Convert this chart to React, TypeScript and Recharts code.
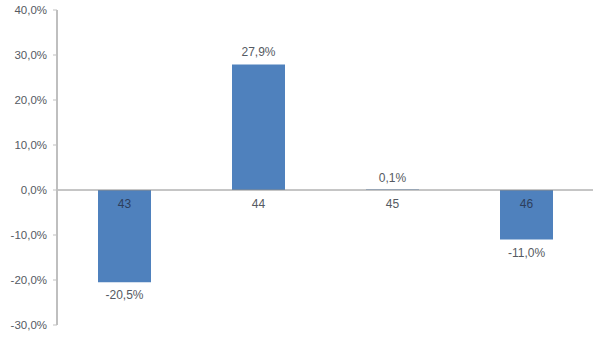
import { BarChart, Bar, XAxis, YAxis, ReferenceLine, LabelList } from 'recharts'

const categories = ['43', '44', '45', '46']
const values = [-20.5, 27.9, 0.1, -11.0]
const yTicks = [-30, -20, -10, 0, 10, 20, 30, 40]

const data = categories.map((c, i) => ({ name: c, value: values[i] }))

const fmt = (v: number) => `${v.toFixed(1).replace('.', ',')}%`

const TEXT = '#555a62'
const FONT = '"Liberation Sans", Arial, sans-serif'

const renderLabels = ({ x, y, width, height, value, index }: any) => {
  const top = Math.min(y, y + height)
  const bottom = Math.max(y, y + height)
  const cx = x + width / 2
  const zero = value >= 0 ? bottom : top
  const valY = value >= 0 ? top - 12 : bottom + 13
  return (
    <g>
      <text x={cx} y={valY} fill={TEXT} textAnchor="middle" dominantBaseline="central" fontSize={12} fontFamily={FONT}>
        {fmt(Number(value))}
      </text>
      <text x={cx} y={zero + 14} fill={value < 0 ? '#2d3e5c' : TEXT} textAnchor="middle" dominantBaseline="central" fontSize={12} fontFamily={FONT}>
        {categories[index]}
      </text>
    </g>
  )
}

export default function App() {
  return (
    <div style={{ position: 'absolute', left: 0, top: 0, background: '#fff' }}>
      <BarChart width={600} height={339} data={data} margin={{ top: 10, right: 7, bottom: 14, left: 0 }}>
        <XAxis dataKey="name" hide />
        <YAxis
          width={57}
          domain={[-30, 40]}
          ticks={yTicks}
          interval={0}
          tickFormatter={fmt}
          axisLine={{ stroke: '#BFBFBF', strokeWidth: 2 }}
          tickLine={{ stroke: '#BFBFBF' }}
          tickSize={4}
          tickMargin={6}
          tick={{ fill: TEXT, fontSize: 11.5, fontFamily: FONT }}
        />
        <ReferenceLine y={0} stroke="#8c8c8c" />
        <Bar dataKey="value" fill="#4F81BD" barSize={53} isAnimationActive={false}>
          <LabelList dataKey="value" content={renderLabels} />
        </Bar>
      </BarChart>
    </div>
  )
}
